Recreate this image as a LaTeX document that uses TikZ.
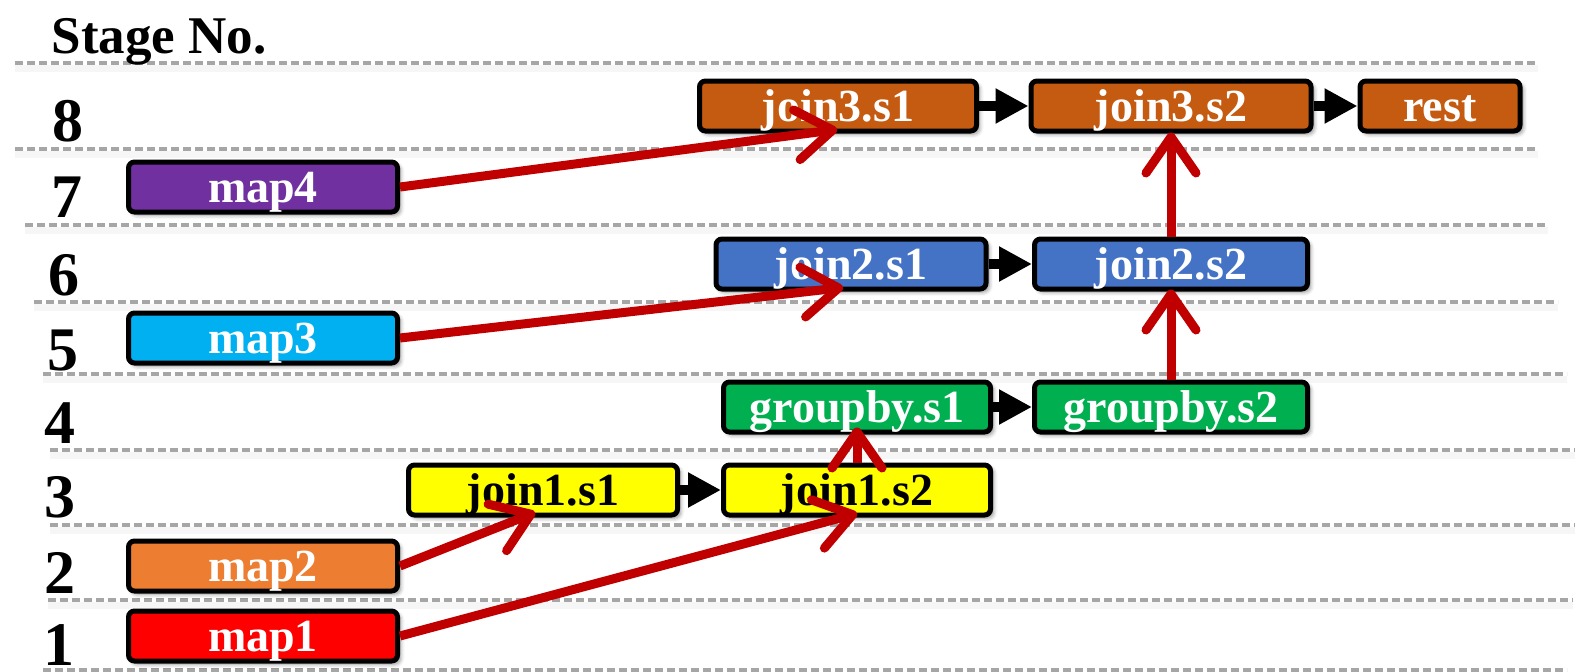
\documentclass[tikz,border=0pt]{standalone}
\usepackage{fontspec}
\setmainfont{Liberation Serif}
\usetikzlibrary{arrows.meta,shadows.blur}

\definecolor{joinbrown}{HTML}{C55A11}
\definecolor{mappurple}{HTML}{7030A0}
\definecolor{joinblue}{HTML}{4472C4}
\definecolor{mapsky}{HTML}{00B0F0}
\definecolor{groupgreen}{HTML}{00B050}
\definecolor{joinyellow}{HTML}{FFFF00}
\definecolor{maporange}{HTML}{ED7D31}
\definecolor{mapred}{HTML}{FF0000}
\definecolor{feedred}{HTML}{C00000}
\definecolor{linegray}{HTML}{A6A6A6}

\begin{document}
\begin{tikzpicture}[x=1pt,y=-1pt,
every node/.style={font=\bfseries},
stagebox/.style={draw,line width=5pt,rounded corners=6pt,inner sep=0pt,
  minimum height=50pt,text height=31pt,text depth=0pt,text=white,
  font=\bfseries\fontsize{46}{50}\selectfont,
  blur shadow={shadow xshift=3pt,shadow yshift=-3pt,shadow blur radius=4pt,shadow opacity=45}},
nextstep/.style={line width=10pt,-{Triangle[length=33pt,width=33pt]}},
feeds/.style={draw=feedred,line width=9pt,-{Straight Barb[round,length=36pt,width=50pt]}},
stageline/.style={draw=linegray,line width=4pt,dash pattern=on 8pt off 4pt},
lineshade/.style={draw=black,opacity=0.035,line width=7pt},
stageno/.style={anchor=base,font=\bfseries\fontsize{62}{62}\selectfont}]

\useasboundingbox (0,0) rectangle (1583,672);

% stage separators
\foreach \y/\xa/\xb in {63/15/1538,149/15/1538,225/25/1548,302/34/1558,374/43/1567,
                        450/50/1575,525/50/1575,600/48/1573,670/43/1567}{
  \draw[lineshade] (\xa,\y+5) -- (\xb,\y+5);
  \draw[stageline] (\xa,\y) -- (\xb,\y);
}

% stage numbers
\node[anchor=base west,font=\bfseries\fontsize{53}{53}\selectfont] (title) at (48,53) {Stage No.};
\foreach \n/\x/\y in {8/68/141,7/67/217,6/64/295,5/63/370,4/60/443,3/60/517,2/60/593,1/59/665}
  \node[stageno] (s\n) at (\x,\y) {\n};

% stage 8
\node[stagebox,fill=joinbrown,minimum width=277pt] (join3s1) at (838,106) {join3.s1};
\node[stagebox,fill=joinbrown,minimum width=280pt] (join3s2) at (1171,106) {join3.s2};
\node[stagebox,fill=joinbrown,minimum width=160pt] (rest) at (1440,106) {rest};
% stage 7
\node[stagebox,fill=mappurple,minimum width=269pt] (map4) at (263,187) {map4};
% stage 6
\node[stagebox,fill=joinblue,minimum width=270pt] (join2s1) at (851,264) {join2.s1};
\node[stagebox,fill=joinblue,minimum width=273pt] (join2s2) at (1171,264) {join2.s2};
% stage 5
\node[stagebox,fill=mapsky,minimum width=269pt] (map3) at (263,338) {map3};
% stage 4
\node[stagebox,fill=groupgreen,minimum width=267pt] (groupbys1) at (857,407) {groupby.s1};
\node[stagebox,fill=groupgreen,minimum width=273pt] (groupbys2) at (1171,407) {groupby.s2};
% stage 3
\node[stagebox,fill=joinyellow,text=black,minimum width=269pt] (join1s1) at (543,490) {join1.s1};
\node[stagebox,fill=joinyellow,text=black,minimum width=267pt] (join1s2) at (857,490) {join1.s2};
% stages 2 and 1
\node[stagebox,fill=maporange,minimum width=269pt] (map2) at (263,566) {map2};
\node[stagebox,fill=mapred,minimum width=269pt] (map1) at (263,636) {map1};

% steps inside one operator
\draw[nextstep] (join3s1) -- (join3s2);
\draw[nextstep] (join3s2) -- (rest);
\draw[nextstep] (join2s1) -- (join2s2);
\draw[nextstep] (groupbys1) -- (groupbys2);
\draw[nextstep] (join1s1) -- (join1s2);

% data dependencies
\draw[feeds] (map4.east) -- ([xshift=-1pt,yshift=4pt]join3s1.south);
\draw[feeds] (map3.east) -- ([xshift=-8pt,yshift=4pt]join2s1.south);
\draw[feeds] (map2.east) -- ([xshift=-8pt,yshift=5pt]join1s1.south);
\draw[feeds] (map1.east) -- ([yshift=4pt]join1s2.south);
\draw[feeds] (join1s2.north) -- ([yshift=7pt]groupbys1.south);
\draw[feeds] (groupbys2.north) -- ([yshift=2pt]join2s2.south);
\draw[feeds] (join2s2.north) -- ([yshift=1pt]join3s2.south);

\end{tikzpicture}
\end{document}
